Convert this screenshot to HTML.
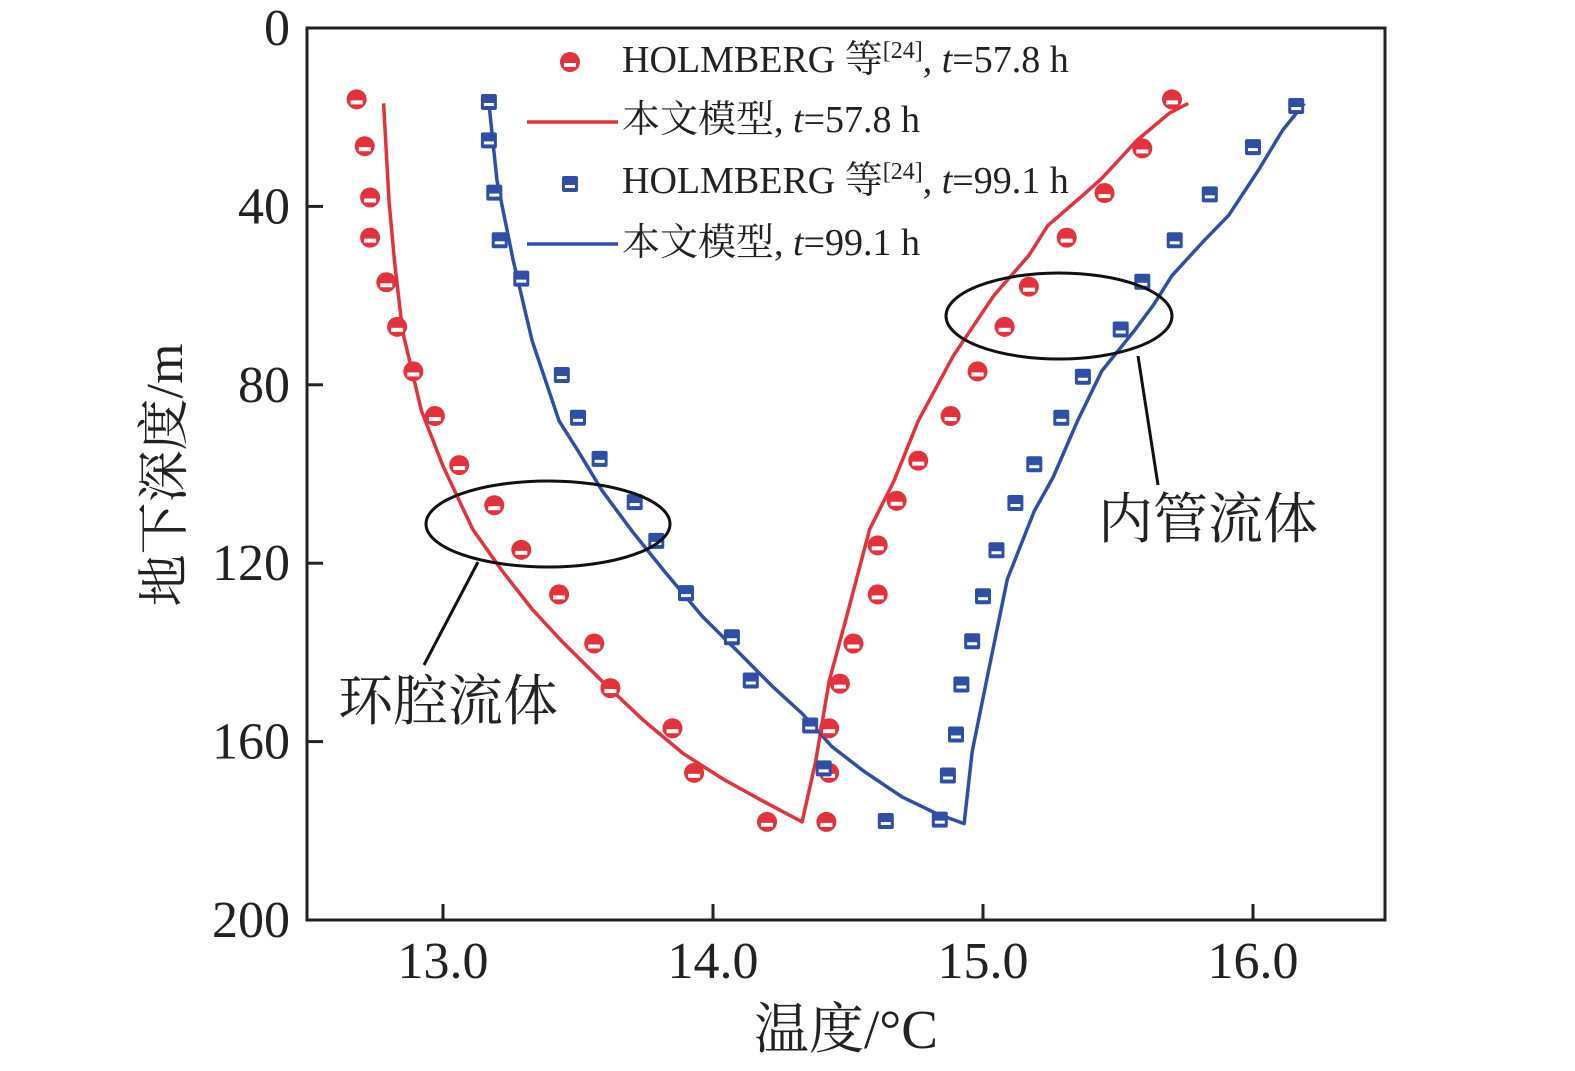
<!DOCTYPE html>
<html><head><meta charset="utf-8"><style>
html,body{margin:0;padding:0;background:#fff;}
svg{display:block;}
text{font-family:"Liberation Serif","Noto Serif CJK SC",serif;fill:#222;}
</style></head><body>
<svg id="chart" width="1575" height="1071" viewBox="0 0 1575 1071" xmlns="http://www.w3.org/2000/svg"></svg>
<script>
// Data
const xTicks=[13.0,14.0,15.0,16.0];
const xTickLabels=["13.0","14.0","15.0","16.0"];
const yTicks=[0,40,80,120,160,200];
const yTickLabels=["0","40","80","120","160","200"];
const redPtT=[12.68,12.71,12.73,12.73,12.79,12.83,12.89,12.97,13.06,13.19,13.29,13.43,13.56,13.62,13.85,13.93,14.20,14.42,14.43,14.43,14.47,14.52,14.61,14.61,14.68,14.76,14.88,14.98,15.08,15.17,15.31,15.45,15.59,15.70];
const redPtD=[16,26.5,38,47,57,67,77,87,98,107,117,127,138,148,157,167,178,178,167,157,147,138,127,116,106,97,87,77,67,58,47,37,27,16];
const redLnT=[12.78,12.80,12.82,12.85,12.92,13.0,13.11,13.22,13.33,13.44,13.59,13.74,13.89,14.04,14.19,14.33,14.38,14.43,14.5,14.58,14.67,14.76,14.89,15.04,15.17,15.24,15.37,15.44,15.57,15.69,15.76];
const redLnD=[16.9,38.7,52.1,67.9,85.8,98.2,112.4,121.8,130.3,137.5,146.5,155.1,162.7,168.5,173.5,178,164.5,146.5,130.8,112.4,101.6,88.1,73.5,60,51,44.3,37.5,33.7,25.2,19.1,16.9];
const bluePtT=[13.17,13.17,13.19,13.21,13.29,13.44,13.50,13.58,13.71,13.79,13.90,14.07,14.14,14.36,14.41,14.64,14.84,14.87,14.90,14.92,14.96,15.00,15.05,15.12,15.19,15.29,15.37,15.51,15.59,15.71,15.84,16.00,16.16];
const bluePtD=[16.6,25.2,36.9,47.6,56.2,77.8,87.4,96.6,106.3,115,126.7,136.6,146.3,156.4,166,177.8,177.5,167.6,158.4,147.2,137.5,127.4,117.1,106.5,97.8,87.4,78.2,67.6,56.9,47.6,37.3,26.7,17.5];
const blueLnT=[13.17,13.20,13.26,13.33,13.43,13.5,13.59,13.70,13.82,13.96,14.11,14.22,14.33,14.44,14.56,14.70,14.83,14.93,14.96,15.02,15.09,15.19,15.26,15.35,15.44,15.56,15.63,15.70,15.82,15.91,16.02,16.11,16.19];
const blueLnD=[16.9,34.2,52.1,70.1,88.1,94.8,103.8,112.8,121.8,131.9,140.9,147.6,153.7,161.1,166.7,172.4,176.2,178.4,162.2,144.3,123.6,108.3,100.7,88.1,76.9,67.9,62.2,55.5,47.6,42,31.9,22.9,16.9];

const L=307,R=1385,T=28,B=920;
const xs=t=>443+(t-13)*270;
const ys=d=>T+(d/200)*(B-T);
const NS="http://www.w3.org/2000/svg";
const svg=document.getElementById('chart');
function mk(tag,attrs,parent){const e=document.createElementNS(NS,tag);for(const k in attrs)e.setAttribute(k,attrs[k]);(parent||svg).appendChild(e);return e;}

const frame=mk('rect',{x:L,y:T,width:R-L,height:B-T,fill:'none',stroke:'#222','stroke-width':3});



xTicks.forEach((v,i)=>{
  const tk=mk('line',{x1:xs(v),x2:xs(v),y1:B,y2:B-16,stroke:'#222','stroke-width':3});
  
  
  const tl=mk('text',{x:xs(v),y:978,'text-anchor':'middle','font-size':52});
  tl.textContent=xTickLabels[i];
  
  
});
yTicks.forEach((v,i)=>{
  const tk=mk('line',{x1:L,x2:L+16,y1:ys(v),y2:ys(v),stroke:'#222','stroke-width':3});
  
  
  const tl=mk('text',{x:290,y:ys(v)+17,'text-anchor':'end','font-size':52});
  tl.textContent=yTickLabels[i];
  
  
});

const xt=mk('text',{x:846,y:1048,'text-anchor':'middle','font-size':55});
xt.textContent='温度/°C';


const yt=mk('text',{x:0,y:0,'text-anchor':'middle','font-size':52,transform:'translate(182,475) rotate(-90)'});
yt.textContent='地下深度/m';



const RED='#e3323b',BLUE='#2f4ea6';
function line(ts,ds,color,name){
  const p=mk('polyline',{points:ts.map((t,i)=>xs(t)+','+ys(ds[i])).join(' '),fill:'none',stroke:color,'stroke-width':3.5,'stroke-linejoin':'round'});
  
  
}
function circ(cx,cy,g){
  mk('circle',{cx:cx,cy:cy,r:10,fill:RED},g);
  mk('rect',{x:cx-6,y:cy+1,width:12,height:4,fill:'#fff'},g);
}
function sq(cx,cy,g){
  mk('rect',{x:cx-8,y:cy-8,width:16,height:16,rx:2,fill:BLUE},g);
  mk('rect',{x:cx-5,y:cy+1,width:10,height:3,fill:'#fff'},g);
}
line(redLnT,redLnD,RED,'red-model-line');
line(blueLnT,blueLnD,BLUE,'blue-model-line');
redPtT.forEach((t,i)=>{const g=mk('g',{});
  
  
  circ(xs(t),ys(redPtD[i]),g);});
bluePtT.forEach((t,i)=>{const g=mk('g',{});
  
  
  sq(xs(t),ys(bluePtD[i]),g);});

const e1=mk('ellipse',{cx:548,cy:524,rx:122,ry:43,fill:'none',stroke:'#111','stroke-width':3});


const l1=mk('line',{x1:478,y1:562,x2:424,y2:665,stroke:'#111','stroke-width':3});


const t1=mk('text',{x:338,y:720,'font-size':55});
t1.textContent='环腔流体';


const e2=mk('ellipse',{cx:1059,cy:316,rx:113,ry:43,fill:'none',stroke:'#111','stroke-width':3});


const l2=mk('line',{x1:1138,y1:356,x2:1158,y2:485,stroke:'#111','stroke-width':3});


const t2=mk('text',{x:1098,y:538,'font-size':55});
t2.textContent='内管流体';


</script>
<svg style="position:absolute;left:0;top:0" width="1575" height="300">
  <g>
    <circle cx="570" cy="62" r="10" fill="#e3323b"/><rect x="564" y="63" width="12" height="4" fill="#fff"/>
    <text x="622" y="72" font-size="38">HOLMBERG 等<tspan font-size="24" dy="-14">[24]</tspan><tspan dy="14">, </tspan><tspan font-style="italic">t</tspan>=57.8 h</text>
  </g>
  <g>
    <line x1="527" y1="122" x2="618" y2="122" stroke="#e3323b" stroke-width="3.5"/>
    <text x="622" y="132" font-size="38">本文模型, <tspan font-style="italic">t</tspan>=57.8 h</text>
  </g>
  <g>
    <rect x="562" y="176" width="16" height="16" rx="2" fill="#2f4ea6"/><rect x="565" y="185" width="10" height="3" fill="#fff"/>
    <text x="622" y="193" font-size="38">HOLMBERG 等<tspan font-size="24" dy="-14">[24]</tspan><tspan dy="14">, </tspan><tspan font-style="italic">t</tspan>=99.1 h</text>
  </g>
  <g>
    <line x1="527" y1="244" x2="618" y2="244" stroke="#2f4ea6" stroke-width="3.5"/>
    <text x="622" y="255" font-size="38">本文模型, <tspan font-style="italic">t</tspan>=99.1 h</text>
  </g>
</svg>
</body></html>
